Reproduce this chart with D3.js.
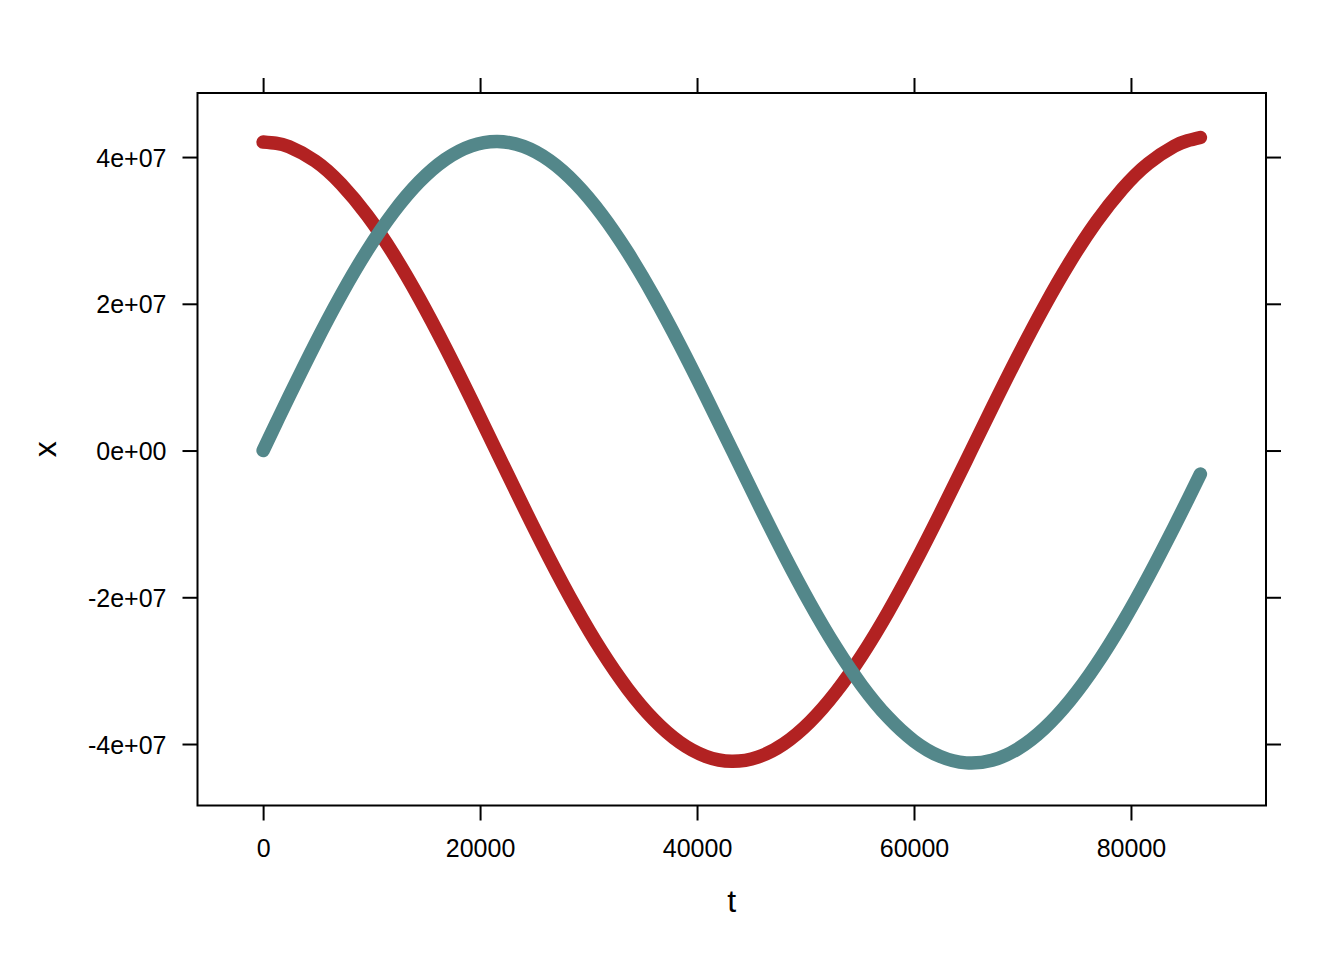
<!DOCTYPE html>
<html>
<head>
<meta charset="utf-8">
<script src="https://cdn.jsdelivr.net/npm/d3@7"></script>
<style>
  html, body { margin: 0; padding: 0; background: #ffffff; }
  svg { display: block; }
  text { font-family: "Liberation Sans", Arial, Helvetica, sans-serif; fill: #000; }
</style>
</head>
<body>
<svg id="chart" width="1344" height="960"></svg>
<script>
// ---- data ----
const tValues = [0, 1200, 2400, 4800, 7200, 9600, 12000, 14400, 16800, 19200, 21600, 24000, 26400,
  28800, 31200, 33600, 36000, 38400, 40800, 43200, 45600, 48000, 50400, 52800, 55200,
  57600, 60000, 62400, 64800, 67200, 69600, 72000, 74400, 76800, 79200, 81600, 84000, 85200, 86400];

// red series (units of 1e7)
const redSeries = [4.2040, 4.1876, 4.1394, 3.9464, 3.6314, 3.2048, 2.6802, 2.0741, 1.4053, 0.6944, -0.0367,
  -0.7663, -1.4726, -2.1344, -2.7321, -3.2479, -3.6667, -3.9764, -4.1679, -4.2359, -4.1787,
  -3.9983, -3.7003, -3.2936, -2.7904, -2.2055, -1.5561, -0.8613, -0.1412, 0.5831, 1.2907,
  1.9610, 2.5749, 3.1147, 3.5650, 3.9130, 4.1489, 4.2226, 4.2660];

// teal series (units of 1e7)
const tealSeries = [0.0000, 0.3714, 0.7391, 1.4542, 2.1235, 2.7263, 3.2447, 3.6629, 3.9688, 4.1535, 4.2120,
  4.1445, 3.9520, 3.6405, 3.2198, 2.7027, 2.1050, 1.4446, 0.7414, 0.0161, -0.7097,
  -1.4145, -2.0779, -2.6803, -3.2044, -3.6349, -3.9595, -4.1688, -4.2572, -4.2216, -4.0637,
  -3.7883, -3.4036, -2.9206, -2.3537, -1.7189, -1.0346, -0.6800, -0.3205];

const xTicks = [0, 20000, 40000, 60000, 80000];
const xTickLabels = ["0", "20000", "40000", "60000", "80000"];
const yTicks = [-4e7, -2e7, 0, 2e7, 4e7];
const yTickLabels = ["-4e+07", "-2e+07", "0e+00", "2e+07", "4e+07"];
const xLimits = [-6048, 92448];
const yLimits = [-4.838e7, 4.873e7];
const xLabel = "t";
const yLabel = "x";

// ---- layout ----
const margin = { left: 197.5, top: 93, right: 1266, bottom: 805.5 };
const svg = d3.select("#chart");

const x = d3.scaleLinear().domain(xLimits).range([margin.left, margin.right]);
const y = d3.scaleLinear().domain(yLimits).range([margin.bottom, margin.top]);

const redData = tValues.map((t, i) => ({ t, v: redSeries[i] * 1e7 }));
const tealData = tValues.map((t, i) => ({ t, v: tealSeries[i] * 1e7 }));

const line = d3.line()
  .x(d => x(d.t))
  .y(d => y(d.v))
  .curve(d3.curveNatural);

const tickLen = 15;
const axisStroke = 2;

function styleAxis(g) {
  g.select(".domain").remove();
  g.selectAll(".tick line").attr("stroke", "#000").attr("stroke-width", axisStroke);
  g.selectAll(".tick text").attr("font-size", 25).attr("fill", "#000")
    .style("font-family", '"Liberation Sans", Arial, sans-serif');
}

// bottom axis
svg.append("g")
  .attr("transform", `translate(0,${margin.bottom})`)
  .call(d3.axisBottom(x).tickValues(xTicks).tickFormat((d, i) => xTickLabels[i])
    .tickSize(tickLen).tickPadding(18.5))
  .call(styleAxis);

// top axis (ticks only)
svg.append("g")
  .attr("transform", `translate(0,${margin.top})`)
  .call(d3.axisTop(x).tickValues(xTicks).tickFormat("").tickSize(tickLen))
  .call(styleAxis);

// left axis
svg.append("g")
  .attr("transform", `translate(${margin.left},0)`)
  .call(d3.axisLeft(y).tickValues(yTicks).tickFormat((d, i) => yTickLabels[i])
    .tickSize(tickLen).tickPadding(16))
  .call(styleAxis)
  .call(g => g.selectAll(".tick text").attr("dy", "0.36em"));

// right axis (ticks only)
svg.append("g")
  .attr("transform", `translate(${margin.right},0)`)
  .call(d3.axisRight(y).tickValues(yTicks).tickFormat("").tickSize(tickLen))
  .call(styleAxis);

// series (red first, teal on top)
svg.append("path")
  .datum(redData)
  .attr("d", line)
  .attr("fill", "none")
  .attr("stroke", "#B22222")
  .attr("stroke-width", 13.5)
  .attr("stroke-linecap", "round")
  .attr("stroke-linejoin", "round");

svg.append("path")
  .datum(tealData)
  .attr("d", line)
  .attr("fill", "none")
  .attr("stroke", "#53878A")
  .attr("stroke-width", 13.5)
  .attr("stroke-linecap", "round")
  .attr("stroke-linejoin", "round");

// panel border
svg.append("rect")
  .attr("x", margin.left)
  .attr("y", margin.top)
  .attr("width", margin.right - margin.left)
  .attr("height", margin.bottom - margin.top)
  .attr("fill", "none")
  .attr("stroke", "#000")
  .attr("stroke-width", axisStroke);

// axis titles
svg.append("text")
  .attr("x", (margin.left + margin.right) / 2)
  .attr("y", 911.5)
  .attr("text-anchor", "middle")
  .attr("font-size", 32)
  .text(xLabel);

svg.append("text")
  .attr("transform", `translate(56,${(margin.top + margin.bottom) / 2}) rotate(-90)`)
  .attr("text-anchor", "middle")
  .attr("font-size", 32)
  .text(yLabel);
</script>
</body>
</html>
